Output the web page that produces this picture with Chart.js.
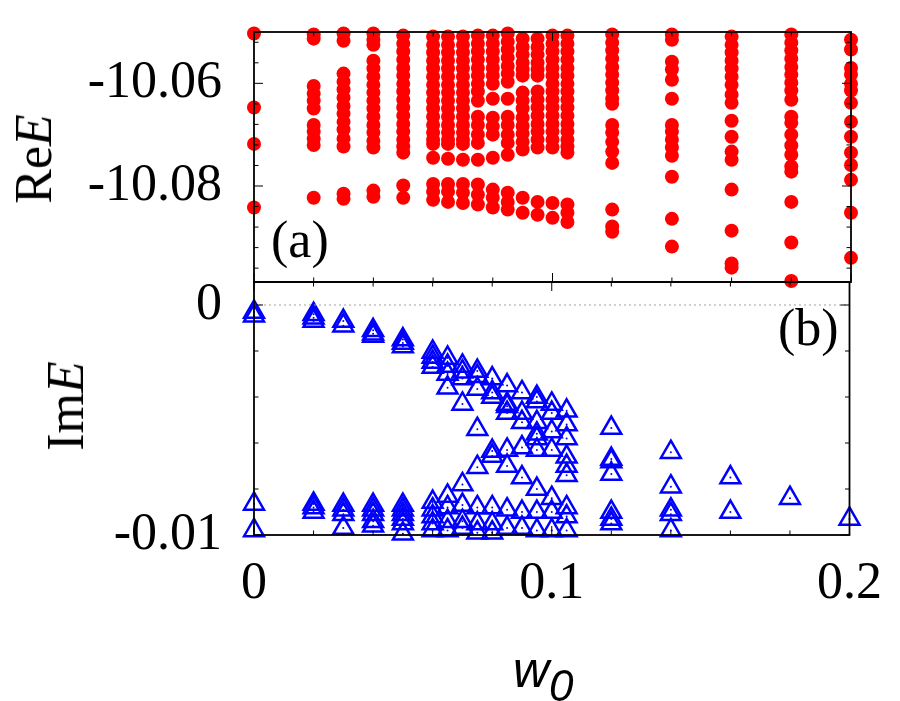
<!DOCTYPE html>
<html>
<head>
<meta charset="utf-8">
<script src="https://cdn.jsdelivr.net/npm/chart.js@4.4.0/dist/chart.umd.min.js"></script>
<style>
    html, body { margin: 0; padding: 0; background: #fff; }
    .container { position: relative; width: 900px; height: 701px; overflow: hidden; }
    .container canvas { position: absolute; left: 0; top: 0; }
    .lbl { position: absolute; white-space: nowrap; line-height: 1; color: #000; }
    .serif { font-family: 'Liberation Serif', 'Times New Roman', serif; font-size: 52px; }
    .rot { transform: translate(-50%, -50%) rotate(-90deg); }
</style>
</head>
<body>
<div class="container">
    <canvas id="reChart" width="900" height="701"></canvas>
    <canvas id="imChart" width="900" height="701"></canvas>
    <div class="lbl serif rot" style="left:34px; top:159px;">Re<i>E</i></div>
    <div class="lbl serif rot" style="left:66px; top:406px;">Im<i>E</i></div>
    <div class="lbl serif" style="left:271px; top:214px;">(a)</div>
    <div class="lbl serif" style="left:778px; top:302px;">(b)</div>
    <div class="lbl" style="left:513px; top:641px; font: italic 50px 'Liberation Sans', Arial, sans-serif;">w<span style="font-size:44px; position:relative; top:14px;">0</span></div>
</div>
<script>
// w0 columns (shared by both panels)
const wCols = [0, 0.02, 0.03, 0.04, 0.05, 0.06, 0.065, 0.07, 0.075, 0.08, 0.085, 0.09, 0.095, 0.1, 0.105, 0.12, 0.14, 0.16, 0.18, 0.2];

// Re E for each column
const reE = [
    [-10.0503, -10.0647, -10.0718, -10.0842],
    [-10.0505, -10.0513, -10.0605, -10.062, -10.0634, -10.0649, -10.0681, -10.0694, -10.0708, -10.072, -10.0823],
    [-10.0503, -10.0517, -10.0581, -10.0597, -10.0612, -10.0628, -10.0644, -10.0659, -10.0675, -10.069, -10.0708, -10.0723, -10.0815, -10.0825],
    [-10.0503, -10.0515, -10.0525, -10.0556, -10.0571, -10.0587, -10.0603, -10.0618, -10.0634, -10.0649, -10.0665, -10.0681, -10.0696, -10.0712, -10.0725, -10.0809, -10.0821],
    [-10.0507, -10.0523, -10.0538, -10.0554, -10.057, -10.0585, -10.0601, -10.0616, -10.0632, -10.0647, -10.0663, -10.0679, -10.0694, -10.071, -10.0723, -10.0735, -10.0799, -10.0823],
    [-10.0509, -10.0525, -10.054, -10.0556, -10.0571, -10.0587, -10.0603, -10.0618, -10.0634, -10.0649, -10.0665, -10.0681, -10.0696, -10.071, -10.0718, -10.0745, -10.0796, -10.0811, -10.0827],
    [-10.0509, -10.0525, -10.054, -10.0556, -10.0571, -10.0587, -10.0603, -10.0618, -10.0634, -10.0649, -10.0665, -10.0681, -10.0696, -10.071, -10.0718, -10.0747, -10.0796, -10.0811, -10.0831],
    [-10.0509, -10.0525, -10.054, -10.0556, -10.0571, -10.0587, -10.0603, -10.0618, -10.0634, -10.0649, -10.0665, -10.0681, -10.0696, -10.071, -10.0718, -10.0749, -10.0796, -10.0813, -10.0833],
    [-10.0507, -10.0523, -10.0538, -10.0554, -10.057, -10.0585, -10.0601, -10.0616, -10.0634, -10.0665, -10.0681, -10.07, -10.0716, -10.0749, -10.0797, -10.0817, -10.0836],
    [-10.0507, -10.0523, -10.0538, -10.0554, -10.057, -10.0585, -10.0601, -10.063, -10.0667, -10.0684, -10.07, -10.0745, -10.0807, -10.0823, -10.0842],
    [-10.0503, -10.0519, -10.0534, -10.055, -10.0566, -10.0581, -10.0597, -10.063, -10.0665, -10.0681, -10.07, -10.0716, -10.0739, -10.0813, -10.0831, -10.0846],
    [-10.0513, -10.0529, -10.0544, -10.056, -10.0573, -10.0585, -10.0618, -10.0634, -10.0649, -10.0667, -10.0683, -10.0698, -10.0714, -10.0729, -10.0823, -10.0852],
    [-10.0513, -10.0529, -10.0544, -10.056, -10.0573, -10.0585, -10.0616, -10.0632, -10.0647, -10.0663, -10.0679, -10.0694, -10.071, -10.0725, -10.0831, -10.0856],
    [-10.0507, -10.0523, -10.0538, -10.0554, -10.057, -10.0585, -10.0601, -10.0616, -10.0632, -10.0647, -10.0663, -10.0679, -10.0694, -10.071, -10.0725, -10.0833, -10.0862],
    [-10.0507, -10.0523, -10.0538, -10.0554, -10.057, -10.0585, -10.0601, -10.0616, -10.0632, -10.0647, -10.0663, -10.0679, -10.0694, -10.071, -10.0723, -10.0735, -10.0836, -10.0852, -10.087],
    [-10.0505, -10.0521, -10.0536, -10.0552, -10.0568, -10.0583, -10.0599, -10.0614, -10.063, -10.064, -10.0681, -10.0696, -10.0714, -10.0733, -10.0755, -10.0846, -10.0879, -10.0889],
    [-10.0505, -10.0515, -10.0558, -10.0573, -10.0593, -10.063, -10.0681, -10.0694, -10.071, -10.0725, -10.0741, -10.0782, -10.0864, -10.0918],
    [-10.0509, -10.0525, -10.054, -10.0556, -10.0571, -10.0587, -10.0603, -10.0622, -10.0638, -10.0673, -10.0704, -10.0733, -10.0749, -10.0807, -10.0887, -10.0951, -10.0959],
    [-10.0505, -10.0521, -10.0536, -10.0552, -10.0568, -10.0583, -10.0599, -10.0614, -10.0632, -10.0665, -10.0677, -10.07, -10.0721, -10.0739, -10.0762, -10.0772, -10.0831, -10.091, -10.0985],
    [-10.0515, -10.0534, -10.057, -10.0583, -10.0601, -10.0614, -10.0638, -10.0675, -10.0704, -10.0735, -10.0759, -10.0788, -10.0852, -10.094]
];

// Im E for each column
const imE = [
    [-0.0003, -0.00047, -0.00865, -0.0098],
    [-0.0004, -0.00055, -0.0007, -0.00865, -0.0088, -0.009],
    [-0.0007, -0.0009, -0.0087, -0.0089, -0.0091, -0.0097],
    [-0.0011, -0.00125, -0.00135, -0.0087, -0.0089, -0.0091, -0.0094, -0.0096],
    [-0.0015, -0.00165, -0.0018, -0.0087, -0.0089, -0.0091, -0.0093, -0.0095, -0.00995],
    [-0.00204, -0.00226, -0.00248, -0.0027, -0.00857, -0.0089, -0.0092, -0.0095, -0.0098],
    [-0.0023, -0.00265, -0.003, -0.0036, -0.0083, -0.0088, -0.0094, -0.0098],
    [-0.00265, -0.0029, -0.0032, -0.0043, -0.0078, -0.0087, -0.0094, -0.0097],
    [-0.00287, -0.0031, -0.00365, -0.0054, -0.00705, -0.0088, -0.0095, -0.0099],
    [-0.0032, -0.0038, -0.004, -0.00635, -0.00657, -0.0088, -0.0095, -0.0099],
    [-0.0035, -0.0043, -0.0044, -0.0047, -0.0063, -0.007, -0.0089, -0.0097],
    [-0.0038, -0.0047, -0.0051, -0.0062, -0.0075, -0.009, -0.0097],
    [-0.004, -0.0042, -0.0051, -0.0056, -0.0058, -0.0063, -0.008, -0.009, -0.0098],
    [-0.0043, -0.0047, -0.0055, -0.0063, -0.0084, -0.009, -0.0098],
    [-0.0046, -0.0052, -0.0058, -0.0066, -0.007, -0.0074, -0.0088, -0.0092, -0.0098],
    [-0.00535, -0.0067, -0.0068, -0.00735, -0.009, -0.0093, -0.0095],
    [-0.0064, -0.0079, -0.0089, -0.0091, -0.0098],
    [-0.0075, -0.009],
    [-0.0084],
    [-0.0093]
];

const xTicks = [0, 0.02, 0.04, 0.06, 0.08, 0.1, 0.12, 0.14, 0.16, 0.18, 0.2];
const xTickLabels = ['0', '', '', '', '', '0.1', '', '', '', '', '0.2'];
const reTicks = [-10.096, -10.092, -10.088, -10.084, -10.08, -10.076, -10.072, -10.068, -10.064, -10.06, -10.056, -10.052];
const reTickLabels = ['', '', '', '', '-10.08', '', '', '', '', '-10.06', '', ''];
const imTicks = [-0.01, -0.008, -0.006, -0.004, -0.002, 0];
const imTickLabels = ['-0.01', '', '', '', '', '0'];
const zeroLineX = [0, 0.2];

const tickFont = { family: "'Liberation Serif', 'Times New Roman', serif", size: 52 };

function toPoints(cols, values) {
    const pts = [];
    cols.forEach((w, i) => values[i].forEach(v => pts.push({ x: w, y: v })));
    return pts;
}

// gnuplot-like frame: border plus inward ticks on all four sides
function framePlugin(yTicks, yLabels) {
    return {
        id: 'frame',
        afterDatasetsDraw(chart) {
            const { ctx, chartArea: a, scales } = chart;
            ctx.save();
            ctx.strokeStyle = '#000';
            ctx.lineWidth = 1;
            ctx.beginPath();
            xTicks.forEach((v, i) => {
                const px = scales.x.getPixelForValue(v);
                const len = xTickLabels[i] ? 9 : 4.5;
                ctx.moveTo(px, a.top); ctx.lineTo(px, a.top + len);
                ctx.moveTo(px, a.bottom); ctx.lineTo(px, a.bottom - len);
            });
            yTicks.forEach((v, i) => {
                const py = scales.y.getPixelForValue(v);
                const len = yLabels[i] ? 9 : 4.5;
                ctx.moveTo(a.left, py); ctx.lineTo(a.left + len, py);
                ctx.moveTo(a.right, py); ctx.lineTo(a.right - len, py);
            });
            ctx.stroke();
            ctx.lineWidth = 1.8;
            ctx.strokeRect(a.left, a.top, a.right - a.left, a.bottom - a.top);
            ctx.restore();
        }
    };
}

function setTicks(values) {
    return (scale) => { scale.ticks = values.map(v => ({ value: v })); };
}

// fixed axis width, and no extra label padding pushing the plot area
function fixWidth(s) {
    s.width = 254;
    s.paddingTop = 0;
    s.paddingBottom = 0;
}

const common = {
    animation: false,
    responsive: false,
    events: [],
    plugins: { legend: { display: false }, tooltip: { enabled: false } }
};

new Chart(document.getElementById('reChart').getContext('2d'), {
    type: 'scatter',
    data: {
        datasets: [{
            data: toPoints(wCols, reE),
            pointStyle: 'circle',
            pointRadius: 7,
            pointBackgroundColor: '#ff0000',
            pointBorderWidth: 0,
            clip: false
        }]
    },
    options: {
        ...common,
        layout: { padding: { top: 32, bottom: 419, left: 0, right: 49 } },
        scales: {
            x: {
                type: 'linear', min: 0, max: 0.2,
                afterBuildTicks: setTicks(xTicks),
                afterFit: (s) => { s.height = 0; s.paddingLeft = 0; s.paddingRight = 0; },
                ticks: { display: false },
                grid: { display: false, drawTicks: false },
                border: { display: false }
            },
            y: {
                type: 'linear', min: -10.0987, max: -10.05,
                afterBuildTicks: setTicks(reTicks),
                afterFit: fixWidth,
                ticks: { autoSkip: false, font: tickFont, color: '#000', padding: 32, callback: (v, i) => reTickLabels[i] },
                grid: { display: false, drawTicks: false },
                border: { display: false }
            }
        }
    },
    plugins: [framePlugin(reTicks, reTickLabels)]
});

const imPoints = toPoints(wCols, imE);

new Chart(document.getElementById('imChart').getContext('2d'), {
    type: 'scatter',
    data: {
        datasets: [{
            data: zeroLineX.map(x => ({ x: x, y: 0 })),
            showLine: true,
            borderColor: '#a0a0a0',
            borderWidth: 1,
            borderDash: [2, 3],
            pointRadius: 0
        }, {
            data: imPoints,
            pointStyle: 'triangle',
            pointRadius: 11.5,
            pointBorderColor: '#0000ff',
            pointBackgroundColor: 'rgba(0,0,0,0)',
            pointBorderWidth: 2.5,
            clip: false
        }, {
            // the small dot gnuplot puts at the centre of each triangle
            data: imPoints,
            pointStyle: 'circle',
            pointRadius: 1,
            pointBackgroundColor: '#0000ff',
            pointBorderWidth: 0,
            clip: false
        }]
    },
    options: {
        ...common,
        layout: { padding: { top: 282, bottom: 0, left: 0, right: 49 } },
        scales: {
            x: {
                type: 'linear', min: 0, max: 0.2,
                afterBuildTicks: setTicks(xTicks),
                afterFit: (s) => { s.height = 166; },
                ticks: { autoSkip: false, maxRotation: 0, font: tickFont, color: '#000', padding: 18, callback: (v, i) => xTickLabels[i] },
                grid: { display: false, drawTicks: false },
                border: { display: false }
            },
            y: {
                type: 'linear', min: -0.01, max: 0.001,
                afterBuildTicks: setTicks(imTicks),
                afterFit: fixWidth,
                ticks: { autoSkip: false, font: tickFont, color: '#000', padding: 32, callback: (v, i) => imTickLabels[i] },
                grid: { display: false, drawTicks: false },
                border: { display: false }
            }
        }
    },
    plugins: [framePlugin(imTicks, imTickLabels)]
});
</script>
</body>
</html>
